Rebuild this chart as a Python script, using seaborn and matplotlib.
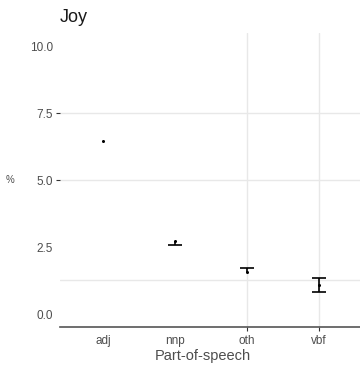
import numpy as np
import pandas as pd
import matplotlib
matplotlib.use("Agg")
import matplotlib.pyplot as plt
import seaborn as sns

# Joy: share of words (%) by part of speech, with lower / estimate / upper bounds
categories = ["adj", "nnp", "oth", "vbf"]
lower = [6.45, 2.58, 1.55, 0.82]
estimate = [6.45, 2.72, 1.55, 1.08]
upper = [6.45, 2.72, 1.70, 1.34]
y_ticks = [0.0, 2.5, 5.0, 7.5, 10.0]

df = pd.DataFrame({"pos": categories, "pct": estimate, "lo": lower, "hi": upper})

sns.set_theme(style="white")
plt.rcParams["font.family"] = ["Liberation Sans", "DejaVu Sans"]

fig = plt.figure(figsize=(3.6, 3.66), dpi=100)
ax = fig.add_axes([60 / 360, 39 / 366, 300 / 360, 294 / 366])

sns.pointplot(
    data=df, x="pos", y="pct", order=categories, errorbar=None,
    linestyle="none", color="black", marker="o", markersize=2.2,
    markeredgewidth=0, ax=ax,
)

# interval whiskers with caps at the ends that differ from the estimate
cap = 0.1
xs = np.arange(len(categories))
ax.vlines(xs, df["lo"], df["hi"], color="black", linewidth=1.2, zorder=3)
for x, lo, est, hi in zip(xs, lower, estimate, upper):
    if hi > est:
        ax.hlines(hi, x - cap, x + cap, color="black", linewidth=1.2, zorder=3)
    if lo < est:
        ax.hlines(lo, x - cap, x + cap, color="black", linewidth=1.2, zorder=3)

ax.set_xlim(-0.6, 3.57)
ax.set_ylim(-0.485, 10.49)
ax.set_yticks(y_ticks)
ax.set_yticklabels([f"{t:.1f}" for t in y_ticks])

# light reference lines
for yv in (1.27, 5.0, 7.5):
    ax.axhline(yv, color="#e8e8e8", linewidth=1.0, zorder=0)
for xv in (2, 3):
    ax.axvline(xv, color="#e8e8e8", linewidth=1.0, zorder=0)

for side in ("top", "right", "left"):
    ax.spines[side].set_visible(False)
ax.spines["bottom"].set_color("#555555")
ax.spines["bottom"].set_linewidth(1.2)

ax.tick_params(axis="both", labelsize=8.5, colors="#333333")
ax.tick_params(axis="y", length=3, width=0.8, pad=2)
ax.tick_params(axis="x", length=3, width=0.8, pad=3)
for t, val in zip(ax.yaxis.get_major_ticks(), y_ticks):
    t.tick1line.set_visible(val in (5.0, 7.5))
for t, cat in zip(ax.xaxis.get_major_ticks(), categories):
    t.tick1line.set_visible(cat in ("oth", "vbf"))
for lab in ax.get_xticklabels() + ax.get_yticklabels():
    lab.set_color("#4d4d4d")

ax.set_xlabel("Part-of-speech", fontsize=10.5, color="#4d4d4d")
ax.xaxis.set_label_coords(0.475, -0.075)
ax.set_ylabel("%", fontsize=7, color="#4d4d4d", rotation=0, va="center")
ax.yaxis.set_label_coords(-0.165, 0.5)

fig.text(60 / 360, 1 - 18 / 366, "Joy", fontsize=13, color="#1a1a1a",
         ha="left", va="center")

fig.savefig("out.png", dpi=100, facecolor="white")
